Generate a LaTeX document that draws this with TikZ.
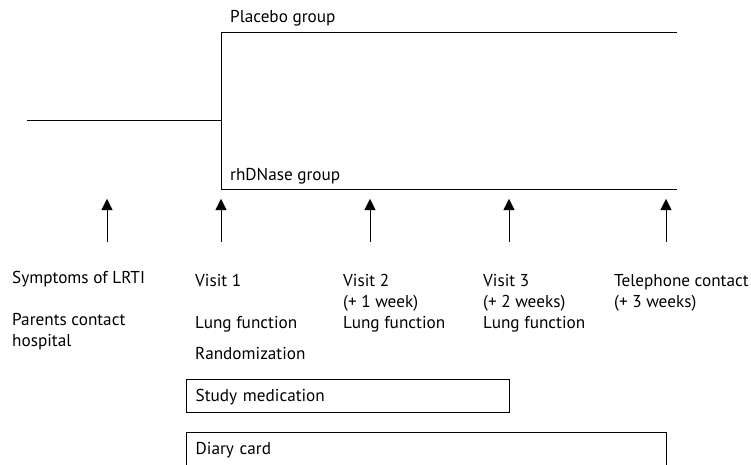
\documentclass[tikz,border=0pt]{standalone}
\usepackage{fontspec}
\setmainfont{PT Sans}
\usetikzlibrary{positioning,arrows.meta}
\tikzset{
line width=1pt,
txt/.style={font=\fontsize{17.2}{21}\selectfont, inner sep=0pt, anchor=base west, align=left},
tick/.style={-{Triangle[width=11pt,length=11pt]}},
period/.style={draw, font=\fontsize{17.2}{21}\selectfont, anchor=north west, inner xsep=9.5pt, inner ysep=0pt,
  minimum height=33pt, text height=12pt, text depth=0pt, align=left},
}

\begin{document}
\begin{tikzpicture}[x=1pt,y=-1pt]
        \useasboundingbox (0,0) rectangle (751,465);

        % groups
        \coordinate (start) at (27,120);
        \coordinate (split) at (221,120);
        \coordinate (ptop) at (221,32.5);
        \coordinate (pend) at (677,32.5);
        \coordinate (rbot) at (221,189);
        \coordinate (rend) at (677,189);
        \draw (start) -- (split);
        \draw (pend) -- (ptop) -- (rbot) -- (rend);
        \node[txt] (placebo) at (230,22.5) {Placebo group};
        \node[txt] (rhdnase) at (230,180) {rhDNase group};

        % time points
        \foreach \x/\n in {107/sym, 221/v1, 370/v2, 509/v3, 666/tel}{
            \coordinate (\n0) at (\x,242);
            \coordinate (\n1) at (\x,199);
            \draw[tick] (\n0) -- (\n1);
        }

        % multi-line nodes sit on the baseline of their last line
        \node[txt] (symptoms) at (12,283.5) {Symptoms of LRTI};
        \node[txt] (parents) at (12,346) {Parents contact\\hospital};

        \node[txt] (visit1) at (195,286) {Visit 1};
        \node[txt] (lung1) at (195,328) {Lung function};
        \node[txt] (random) at (195,359) {Randomization};

        \node[txt] (visit2) at (343,328) {Visit 2\\(+ 1 week)\\Lung function};
        \node[txt] (visit3) at (483,328) {Visit 3\\(+ 2 weeks)\\Lung function};
        \node[txt] (phone) at (614,307) {Telephone contact\\(+ 3 weeks)};

        % study periods
        \node[period, text width=304pt] (medication) at (186,379) {Study medication};
        \node[period, text width=461pt] (diary) at (186,432) {Diary card};

    \end{tikzpicture}
\end{document}
